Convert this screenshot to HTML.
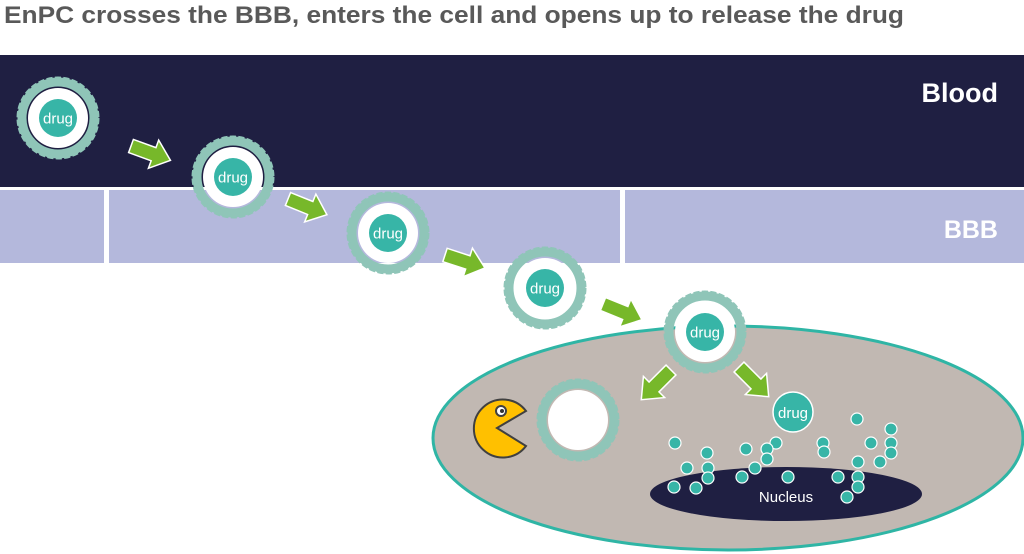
<!DOCTYPE html>
<html><head><meta charset="utf-8"><style>
html,body{margin:0;padding:0;background:#fff;width:1024px;height:554px;overflow:hidden}
</style></head><body>
<svg width="1024" height="554" viewBox="0 0 1024 554" xmlns="http://www.w3.org/2000/svg" font-family="Liberation Sans, sans-serif">
<defs>
<g id="shell">
<circle r="36" fill="none" stroke="#8fc5b8" stroke-width="9"/>
<circle r="39" fill="none" stroke="#8fc5b8" stroke-width="5" stroke-dasharray="6 2.2"/>
<circle r="30" fill="#fff"/>
</g>
<g id="p">
<use href="#shell"/>
<circle r="19" fill="#37b5a7"/>
<text y="5.5" text-anchor="middle" font-size="15" fill="#fff">drug</text>
</g>
<polygon id="arr" points="0,-7 24,-7 24,-15 42,0 24,15 24,7 0,7" fill="#77b82a" stroke="#fff" stroke-width="1.5"/>
</defs>
<text x="4" y="23" font-size="24" font-weight="bold" fill="#595959" textLength="900" lengthAdjust="spacingAndGlyphs">EnPC crosses the BBB, enters the cell and opens up to release the drug</text>
<rect x="0" y="55" width="1024" height="132" fill="#1f1f42"/>
<rect x="0" y="190" width="104" height="73" fill="#b4b8dc"/>
<rect x="109" y="190" width="511" height="73" fill="#b4b8dc"/>
<rect x="625" y="190" width="399" height="73" fill="#b4b8dc"/>
<text x="998" y="102" text-anchor="end" font-size="27" font-weight="bold" fill="#fff">Blood</text>
<text x="998" y="238" text-anchor="end" font-size="25" font-weight="bold" fill="#fff">BBB</text>
<ellipse cx="728" cy="438" rx="295" ry="112" fill="#c1b8b2" stroke="#2fb5a5" stroke-width="3"/>
<ellipse cx="786" cy="494" rx="136" ry="27" fill="#1f1f42"/>
<text x="786" y="502" text-anchor="middle" font-size="15" fill="#fff">Nucleus</text>
<use href="#p" x="58" y="118"/>
<use href="#p" x="233" y="177"/>
<use href="#p" x="388" y="233"/>
<use href="#p" x="545" y="288"/>
<use href="#p" x="705" y="332"/>
<use href="#shell" x="578" y="420"/>
<use href="#arr" transform="translate(131,146) rotate(20)"/>
<use href="#arr" transform="translate(288,199) rotate(22)"/>
<use href="#arr" transform="translate(445,255) rotate(18)"/>
<use href="#arr" transform="translate(603,304) rotate(22)"/>
<use href="#arr" transform="translate(671,370) rotate(135)"/>
<use href="#arr" transform="translate(739,367) rotate(45)"/>
<path d="M497,428 L526,411 A29,29 0 1 0 526,446 Z" fill="#ffc000" stroke="#404040" stroke-width="2"/>
<circle cx="501" cy="411" r="5" fill="#fff" stroke="#404040" stroke-width="2"/>
<circle cx="502" cy="411" r="2" fill="#333"/>
<circle cx="793" cy="412" r="20" fill="#37b5a7" stroke="#fff" stroke-width="1.5"/>
<text x="793" y="418" text-anchor="middle" font-size="15" fill="#fff">drug</text>
<g fill="#37b5a7" stroke="#fff" stroke-width="1.2">
<circle cx="675" cy="443" r="6"/><circle cx="707" cy="453" r="6"/><circle cx="687" cy="468" r="6"/><circle cx="708" cy="468" r="6"/><circle cx="708" cy="478" r="6"/><circle cx="674" cy="487" r="6"/><circle cx="696" cy="488" r="6"/><circle cx="746" cy="449" r="6"/><circle cx="776" cy="443" r="6"/><circle cx="767" cy="449" r="6"/><circle cx="767" cy="459" r="6"/><circle cx="755" cy="468" r="6"/><circle cx="742" cy="477" r="6"/><circle cx="788" cy="477" r="6"/><circle cx="823" cy="443" r="6"/><circle cx="824" cy="452" r="6"/><circle cx="857" cy="419" r="6"/><circle cx="871" cy="443" r="6"/><circle cx="891" cy="429" r="6"/><circle cx="891" cy="443" r="6"/><circle cx="891" cy="453" r="6"/><circle cx="880" cy="462" r="6"/><circle cx="858" cy="462" r="6"/><circle cx="858" cy="477" r="6"/><circle cx="838" cy="477" r="6"/><circle cx="858" cy="487" r="6"/><circle cx="847" cy="497" r="6"/>
</g>
</svg>
</body></html>
